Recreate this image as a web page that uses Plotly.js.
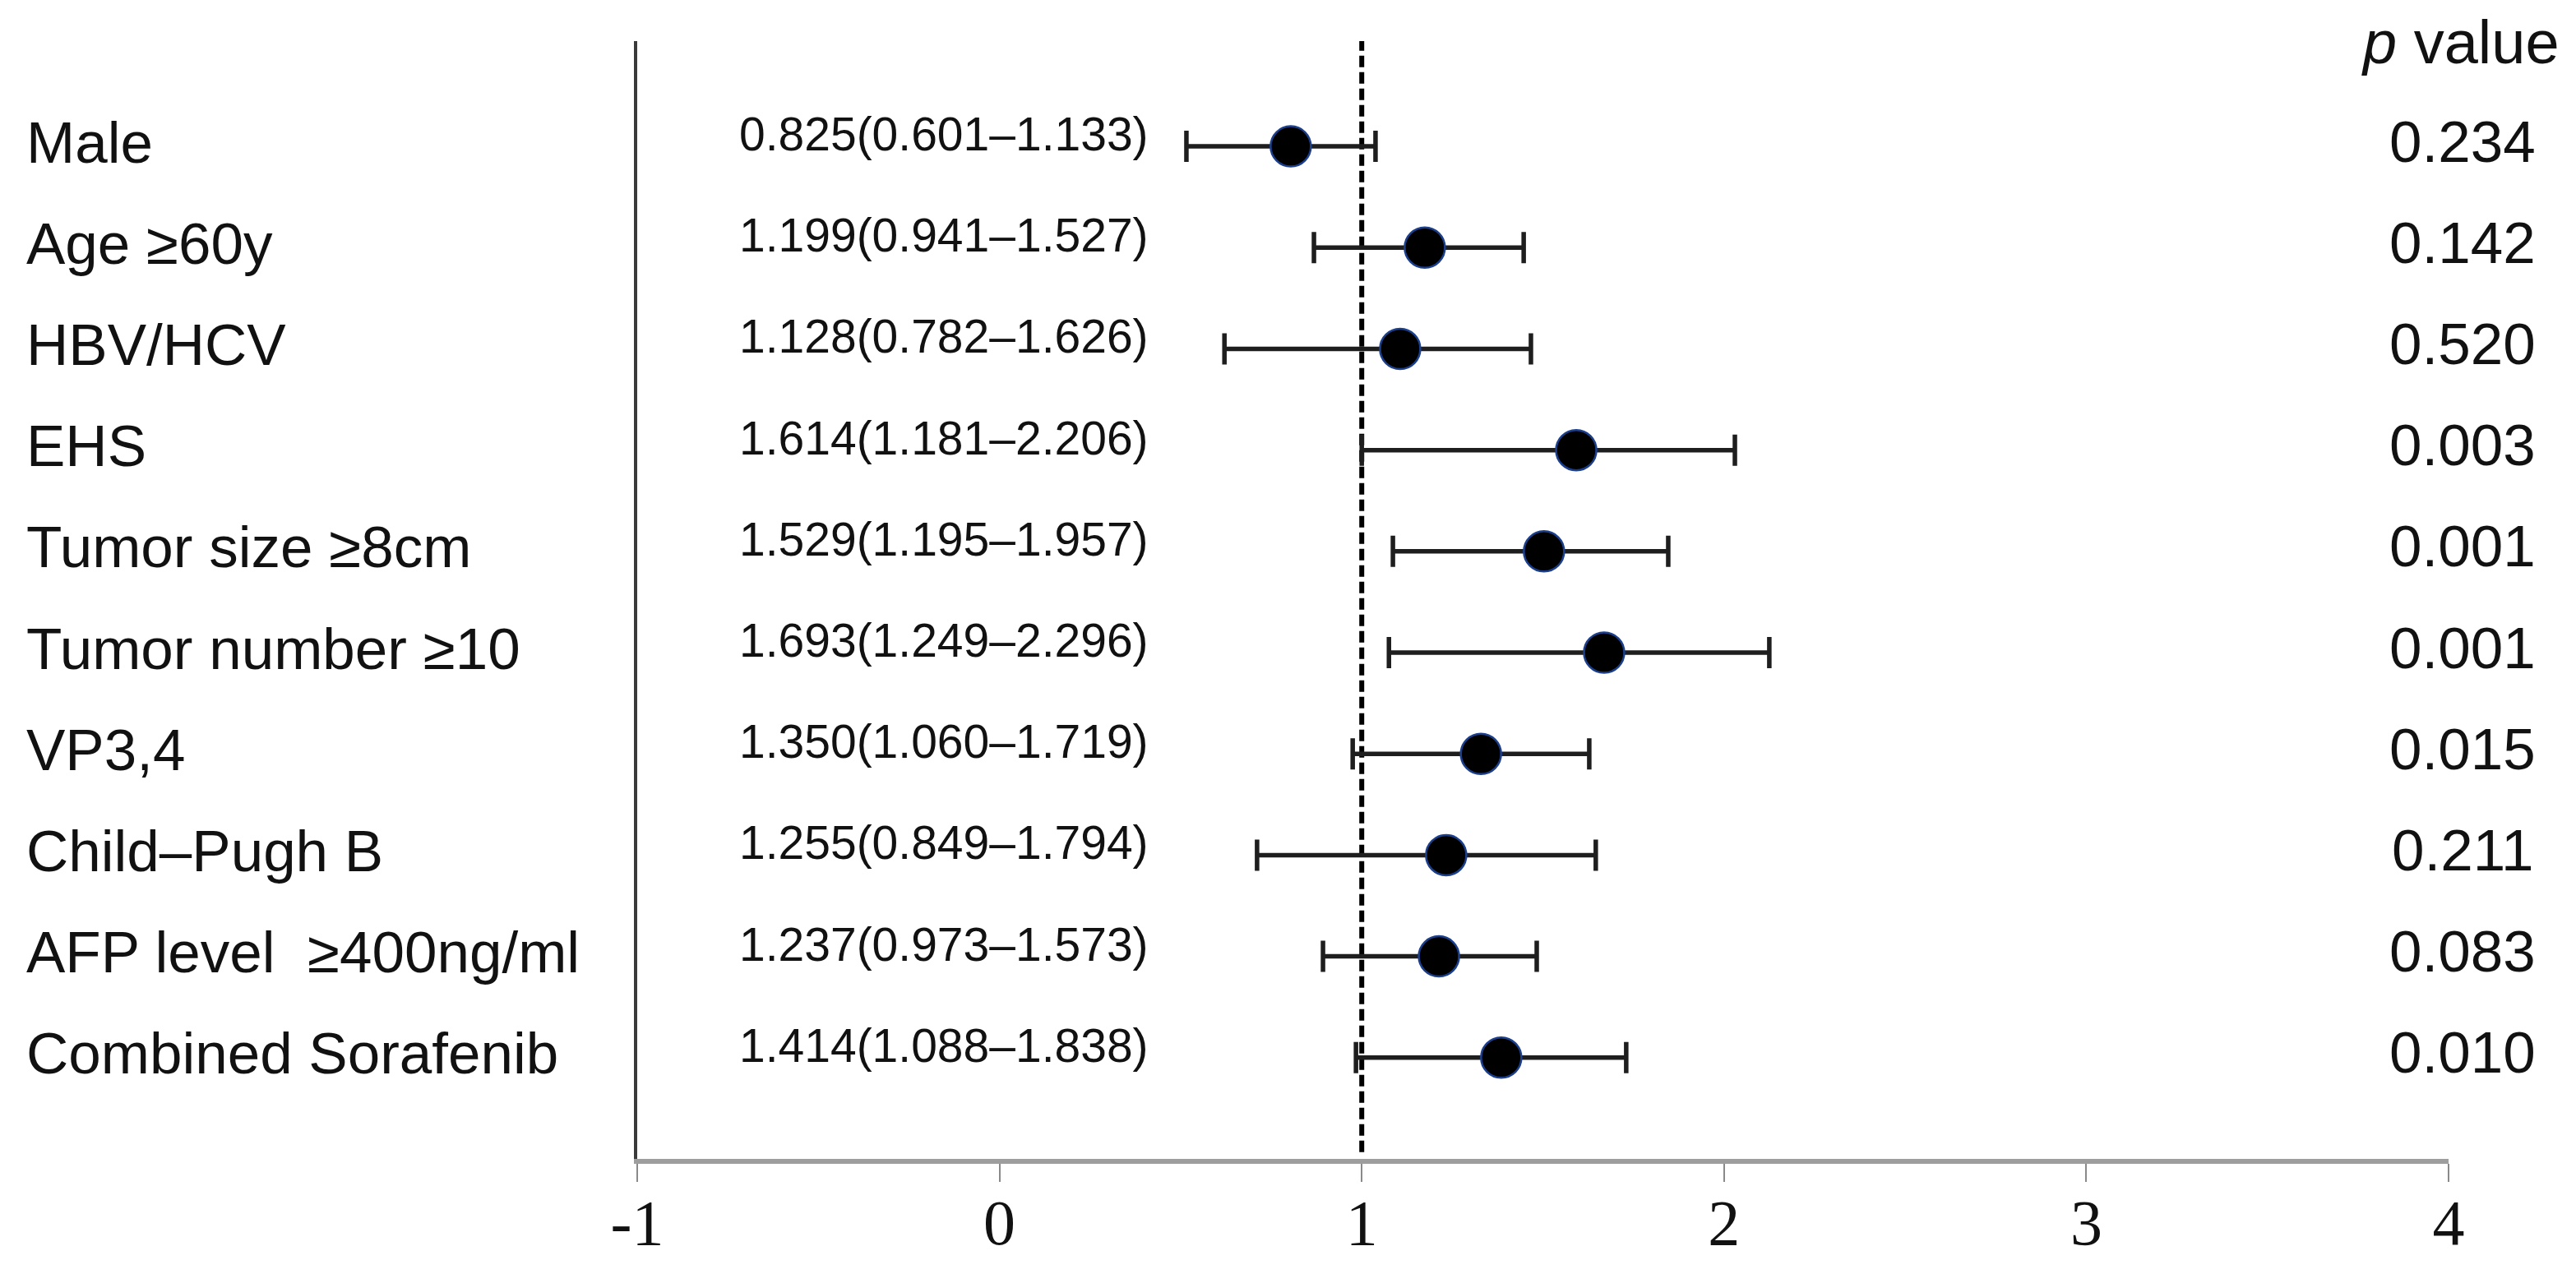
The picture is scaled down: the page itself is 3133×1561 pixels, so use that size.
<!DOCTYPE html>
<html>
<head>
<meta charset="utf-8">
<script src="https://cdn.plot.ly/plotly-3.0.1.min.js"></script>
<style>html,body{margin:0;padding:0;background:#fff;}#chart{width:3133px;height:1561px;}</style>
</head>
<body>
<div id="chart"></div>
<script>
// ---- data ----
const categories = ['Male', 'Age \u226560y', 'HBV/HCV', 'EHS', 'Tumor size \u22658cm', 'Tumor number \u226510',
  'VP3,4', 'Child\u2013Pugh B', 'AFP level \u00a0\u2265400ng/ml', 'Combined Sorafenib'];
const hrLabels = ['0.825(0.601\u20131.133)', '1.199(0.941\u20131.527)', '1.128(0.782\u20131.626)', '1.614(1.181\u20132.206)',
  '1.529(1.195\u20131.957)', '1.693(1.249\u20132.296)', '1.350(1.060\u20131.719)', '1.255(0.849\u20131.794)',
  '1.237(0.973\u20131.573)', '1.414(1.088\u20131.838)'];
const pValues = ['0.234', '0.142', '0.520', '0.003', '0.001', '0.001', '0.015', '0.211', '0.083', '0.010'];
const hr     = [0.804, 1.174, 1.106, 1.592, 1.503, 1.669, 1.329, 1.233, 1.213, 1.385];
const ciLow  = [0.516, 0.868, 0.621, 1.000, 1.086, 1.075, 0.975, 0.711, 0.893, 0.984];
const ciHigh = [1.038, 1.447, 1.467, 2.030, 1.846, 2.125, 1.628, 1.646, 1.483, 1.730];
const tickVals = [-1, 0, 1, 2, 3, 4];
const tickText = ['-1', '0', '1', '2', '3', '4'];
const refValue = 1;

// ---- font detection ----
function hasFont(name) {
  const c = document.createElement('canvas').getContext('2d');
  const t = 'Male Combined Sorafenib 0123456789';
  c.font = '80px monospace';
  const a = c.measureText(t).width;
  c.font = '80px "' + name + '", monospace';
  const b = c.measureText(t).width;
  return Math.abs(a - b) > 0.5;
}
const narrow = hasFont('Liberation Sans Narrow');
const SANS = narrow ? '"Liberation Sans Narrow", "Liberation Sans", Arial, sans-serif' : '"Liberation Sans", Arial, sans-serif';
const k = narrow ? 1 : 0.86;
const SERIF = '"Liberation Serif", "Times New Roman", serif';

// ---- geometry ----
const W = 3133, H = 1561;
const M = {l: 775, r: 155, t: 50, b: 151};
const xRange = [-1, 4];
const yRange = [10.0, -1.04];
const PW = W - M.l - M.r, PH = H - M.t - M.b;
function xPaper(px) { return (px - M.l) / PW; }
function yPaper(px) { return 1 - (px - M.t) / PH; }
const rowPx = PH / (yRange[0] - yRange[1]);
function rowPaper(i, dpx) { return yPaper(M.t + (i - yRange[1]) * rowPx + dpx); }

const rows = categories.map((_, i) => i);

const trace = {
  type: 'scatter', mode: 'markers',
  x: hr, y: rows,
  error_x: {
    type: 'data', symmetric: false,
    array: ciHigh.map((v, i) => v - hr[i]),
    arrayminus: hr.map((v, i) => v - ciLow[i]),
    color: '#1e1e1e', thickness: 5.5, width: 19
  },
  marker: {size: 49, color: '#000000', line: {color: '#1c3f8c', width: 2.5}},
  hoverinfo: 'skip', cliponaxis: false
};

const annotations = [];
categories.forEach((c, i) => {
  annotations.push({xref: 'paper', yref: 'paper', x: xPaper(30), y: rowPaper(i, -5), text: c, showarrow: false,
    xanchor: 'left', yanchor: 'middle', font: {family: SANS, size: Math.round(82 * k), color: '#111'}});
  annotations.push({xref: 'paper', yref: 'paper', x: xPaper(1148), y: rowPaper(i, -15), text: hrLabels[i], showarrow: false,
    xanchor: 'center', yanchor: 'middle', font: {family: SANS, size: Math.round(66 * k), color: '#111'}});
  annotations.push({xref: 'paper', yref: 'paper', x: xPaper(2995), y: rowPaper(i, -6), text: pValues[i], showarrow: false,
    xanchor: 'center', yanchor: 'middle', font: {family: SANS, size: Math.round(82 * k), color: '#111'}});
});
annotations.push({xref: 'paper', yref: 'paper', x: xPaper(2992), y: yPaper(52), text: '<i>p</i> value', showarrow: false,
  xanchor: 'center', yanchor: 'middle', font: {family: '"Liberation Sans", Arial, sans-serif', size: 74, color: '#111'}});

const layout = {
  width: W, height: H, margin: M,
  paper_bgcolor: '#ffffff', plot_bgcolor: '#ffffff', showlegend: false,
  xaxis: {
    range: xRange, tickmode: 'array', tickvals: tickVals, ticktext: tickText,
    showgrid: false, zeroline: false, showline: true, linecolor: '#9e9e9e', linewidth: 6,
    ticks: 'outside', ticklen: 22, tickwidth: 2, tickcolor: '#8a8a8a',
    tickfont: {family: SERIF, size: 78, color: '#111'}, ticklabelstandoff: -18, fixedrange: true
  },
  yaxis: {
    range: yRange, showgrid: false, zeroline: false, showline: true, linecolor: '#3a3a3a', linewidth: 4,
    showticklabels: false, ticks: '', fixedrange: true
  },
  shapes: [{type: 'line', xref: 'x', yref: 'paper', x0: refValue, x1: refValue, y0: 0.006, y1: 1,
    line: {color: '#000000', width: 6, dash: '14px,6px'}, layer: 'below'}],
  annotations: annotations
};

Plotly.newPlot('chart', [trace], layout, {staticPlot: true, displayModeBar: false});
</script>
</body>
</html>
